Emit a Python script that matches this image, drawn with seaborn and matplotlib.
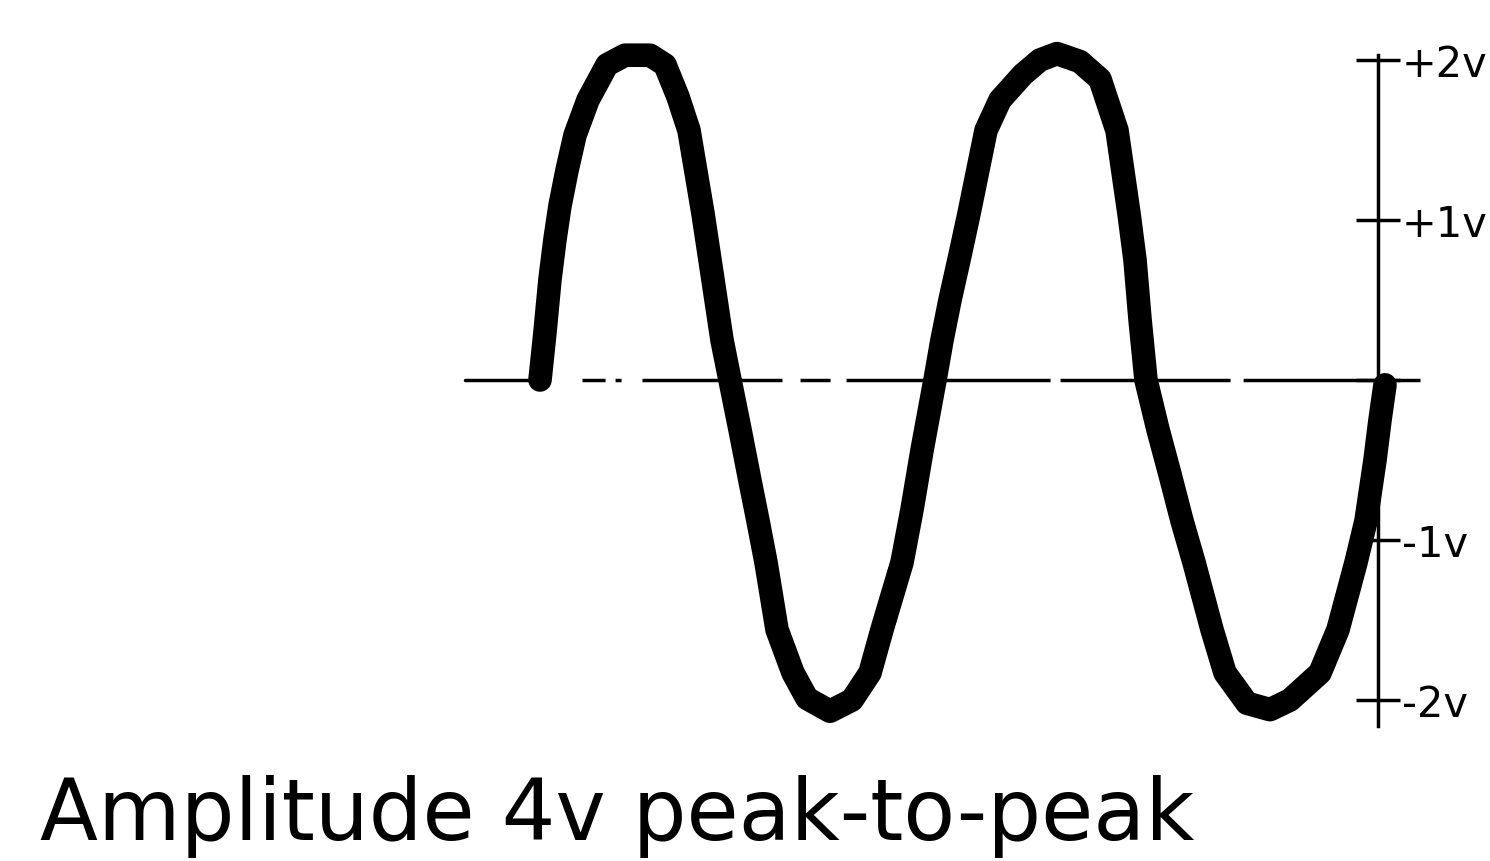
import pandas as pd
import seaborn as sns
import matplotlib.pyplot as plt

sns.set_theme(style="white")
plt.rcParams['font.family'] = ['DejaVu Sans']
plt.rcParams['lines.scale_dashes'] = False

# hand-drawn waveform (time in arbitrary units, volts)
time = [0.00, 0.05, 0.10, 0.15, 0.20, 0.27, 0.35, 0.48, 0.67, 0.85,
        1.10, 1.25, 1.38, 1.49, 1.63, 1.70, 1.76, 1.82, 1.90, 2.00,
        2.10, 2.18, 2.26, 2.37, 2.53, 2.67, 2.90, 3.12, 3.30, 3.42,
        3.62, 3.72, 3.82, 3.95, 4.02, 4.10, 4.20, 4.29, 4.46, 4.60,
        4.83, 5.00, 5.17, 5.40, 5.60, 5.77, 5.89, 5.95, 6.00, 6.06,
        6.18, 6.30, 6.42, 6.54, 6.72, 6.85, 7.07, 7.30, 7.50, 7.80,
        7.98, 8.16, 8.26, 8.35, 8.40, 8.45]
volts = [0.00, 0.30, 0.63, 0.88, 1.09, 1.31, 1.53, 1.75, 1.97, 2.03,
         2.03, 1.97, 1.77, 1.56, 1.04, 0.75, 0.50, 0.25, 0.00, -0.31,
         -0.63, -0.88, -1.14, -1.56, -1.83, -1.99, -2.07, -2.00, -1.83, -1.56,
         -1.14, -0.81, -0.44, 0.00, 0.25, 0.50, 0.78, 1.04, 1.56, 1.75,
         1.91, 2.00, 2.04, 1.99, 1.88, 1.56, 1.04, 0.75, 0.38, 0.00,
         -0.31, -0.59, -0.88, -1.14, -1.56, -1.83, -2.02, -2.06, -2.00, -1.83,
         -1.56, -1.14, -0.88, -0.50, -0.25, -0.03]

tick_values = [2, 1, 0, -1, -2]
tick_labels = ['+2v', '+1v', '', '-1v', '-2v']

caption = 'Amplitude 4v peak-to-peak'

df = pd.DataFrame({'time': time, 'volts': volts})

fig = plt.figure(figsize=(14.9, 8.61), dpi=100)
ax = fig.add_axes([0, 0, 1, 1])
ax.set_xlim(-5.40, 9.50)
ax.set_ylim(-3.006, 2.375)

# 0 V reference: solid lead-in, then the broken hand-drawn line
ax.plot([-0.75, 0.0], [0, 0], color='black', lw=2.5)
ax.plot([0.42, 8.80], [0, 0], color='black', lw=2.5,
        dashes=(16.6, 7.2, 4.3, 15.1, 100.8, 13, 21.6, 11.5,
                146.9, 7.2, 122.4, 9.4, 127.4, 20))

sns.lineplot(data=df, x='time', y='volts', color='black', lw=17,
             sort=False, ax=ax, solid_capstyle='round',
             solid_joinstyle='round')

# voltage scale on the right
for side in ['left', 'top', 'bottom']:
    ax.spines[side].set_visible(False)
ax.spines['right'].set_position(('data', 8.38))
ax.spines['right'].set_bounds(-2.16, 2.03)
ax.spines['right'].set_linewidth(2.5)
ax.spines['right'].set_color('black')
ax.yaxis.tick_right()
ax.set_yticks(tick_values, tick_labels)
ax.tick_params(axis='y', direction='inout', length=32, width=2.5,
               pad=1, labelsize=30, colors='black')
ax.set_xticks([])
ax.set(xlabel='', ylabel='')

fig.text(40 / 1490, 1 - 840 / 861, caption, fontsize=61,
         va='baseline', ha='left', color='black')

fig.savefig('out.png', dpi=100, facecolor='white')
